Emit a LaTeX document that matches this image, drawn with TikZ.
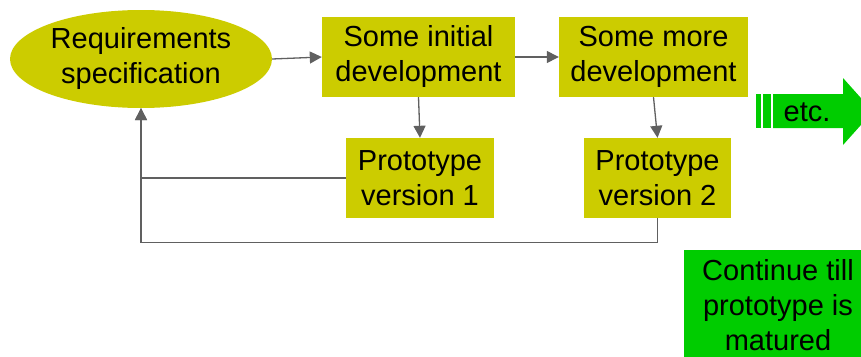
\documentclass[tikz,border=0pt]{standalone}
\usepackage{fontspec}
\setmainfont{Liberation Sans}
\usetikzlibrary{shapes.geometric,arrows.meta}
\definecolor{olive}{HTML}{CCCC00}
\definecolor{brightgreen}{HTML}{00CC00}
\definecolor{linegray}{HTML}{606060}
\tikzset{
  stagebox/.style={rectangle,fill=olive,inner sep=0pt,align=center,font=\fontsize{29}{35}\selectfont},
  link/.style={draw=linegray,line width=1.3pt,-{Triangle[length=12pt,width=12pt]}},
  plainlink/.style={draw=linegray,line width=1.3pt}
}
\begin{document}
\begin{tikzpicture}[x=1pt,y=-1pt]
  \useasboundingbox (0,0) rectangle (861,356);
  % draw requirements ellipse
  \node at(141,59)[ellipse,fill=olive,inner sep=0pt,minimum width=262pt,minimum height=98pt,align=center,font=\fontsize{29}{35}\selectfont](req){Requirements\\specification};
  % draw development steps
  \node at(418.5,57)[stagebox,minimum width=193pt,minimum height=80pt](initdev){Some initial\\development};
  \node at(653.5,57)[stagebox,minimum width=189pt,minimum height=80pt](moredev){Some more\\development};
  % draw prototypes
  \node at(420,178)[stagebox,minimum width=148pt,minimum height=80pt](proto1){Prototype\\version 1};
  \node at(657.5,178)[stagebox,minimum width=147pt,minimum height=80pt](proto2){Prototype\\version 2};
  % draw "etc." arrow
  \fill[brightgreen] (756,94) rectangle (761,128);
  \fill[brightgreen] (763,94) rectangle (771,128);
  \fill[brightgreen] (773,94) -- (843,94) -- (843,78) -- (873,111.5) -- (843,145) -- (843,128) -- (773,128) -- cycle;
  \node at(807,112)[font=\fontsize{29}{35}\selectfont](etc){etc.};
  % draw "continue" box
  \node at(778,305)[stagebox,fill=brightgreen,minimum width=188pt,minimum height=110pt](cont){Continue till\\prototype is\\matured};
  % draw arrows between steps
  \draw[link](req.east) -- (initdev.west);
  \draw[link](initdev.east) -- (moredev.west);
  \draw[link](initdev.south) -- (proto1.north);
  \draw[link](moredev.south) -- (proto2.north);
  % draw feedback lines
  \draw[link](proto1.west) -| (req.south);
  \draw[link](proto2.south) -- ++(0,24) -| (req.south);
\end{tikzpicture}
\end{document}
